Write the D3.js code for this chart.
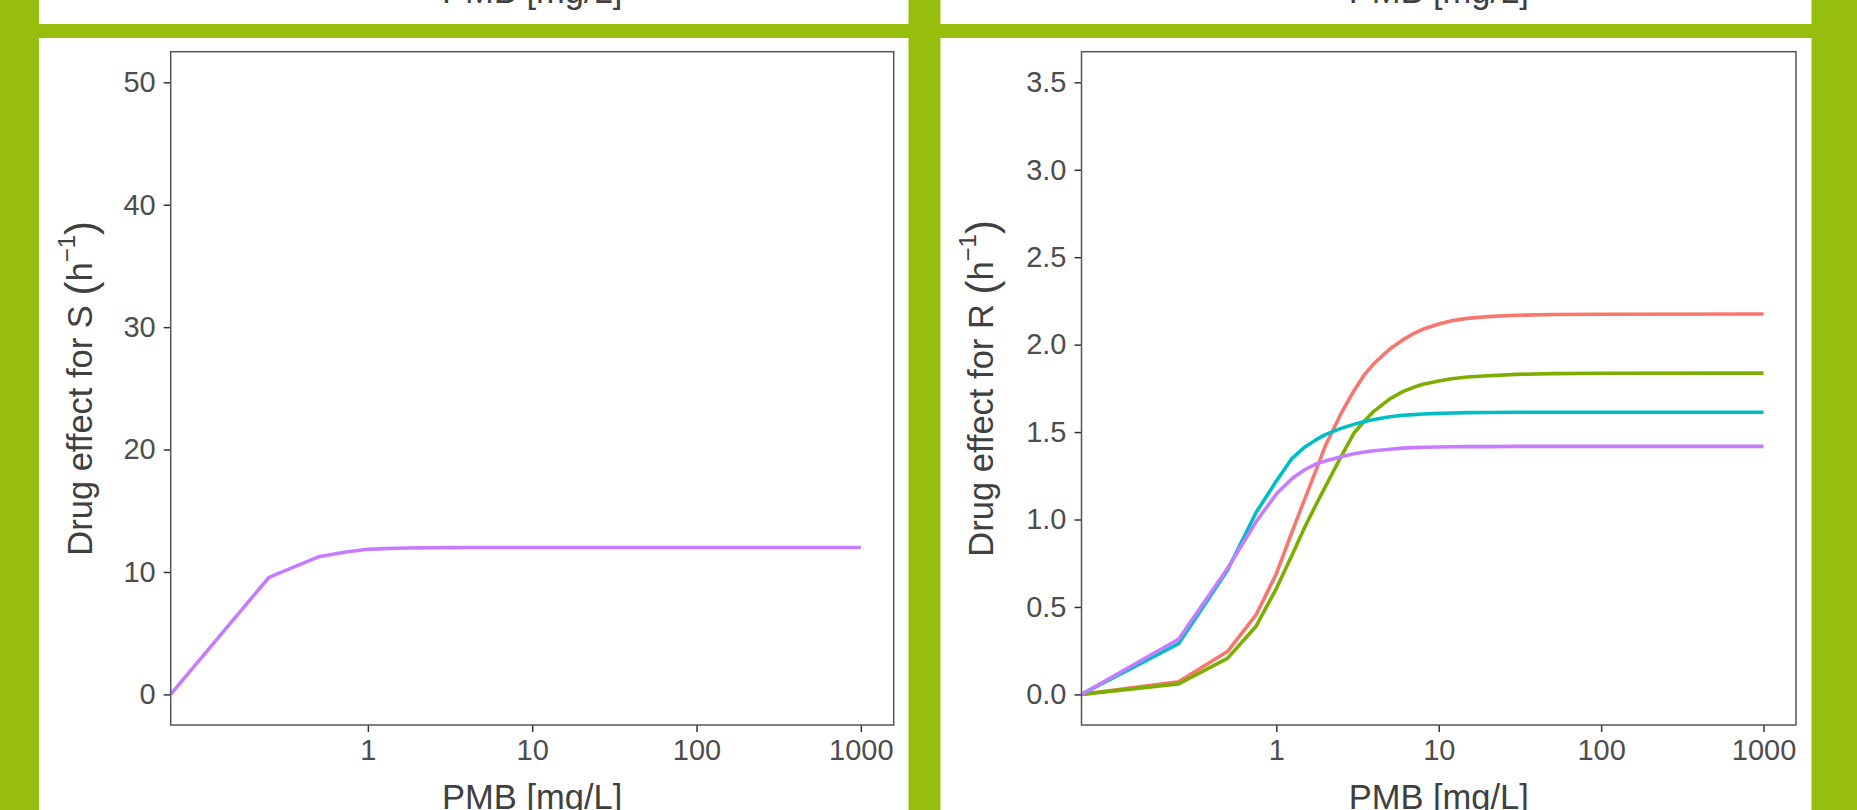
<!DOCTYPE html>
<html>
<head>
<meta charset="utf-8">
<script src="https://cdn.jsdelivr.net/npm/d3@7"></script>
<style>
  html, body { margin: 0; padding: 0; background: #96bf0d; }
  svg { display: block; }
  text { font-family: "Liberation Sans", Arial, sans-serif; }
</style>
</head>
<body>
<svg id="chart" width="1857" height="810"></svg>
<script>
// ---------------- data ----------------
const xTicks = [1, 10, 100, 1000];
const xLimits = [0.1, 1000];
const yTicksS = [0, 10, 20, 30, 40, 50];
const yLimitsS = [0, 50];
const yTicksR = [0, 0.5, 1, 1.5, 2, 2.5, 3, 3.5];
const yLimitsR = [0, 3.5];

const xTitle = "PMB [mg/L]";
const yTitleS = "Drug effect for S";
const yTitleR = "Drug effect for R";

const pmb = [0, 0.25, 0.5, 0.75, 1, 1.25, 1.5, 1.75, 2, 2.5, 3, 3.5, 4, 5, 6, 7, 8, 10, 12, 15, 20, 30, 50, 100, 1000];

// left panel: drug effect for S (single series)
const effectS = [0, 9.56, 11.24, 11.65, 11.85, 11.91, 11.94, 11.96, 11.97, 11.98, 11.99, 11.99, 12.0, 12.0, 12.0, 12.0, 12.0, 12.0, 12.0, 12.0, 12.0, 12.0, 12.0, 12.0, 12.0];

// right panel: drug effect for R (four series)
const effectR1 = [0, 0.072, 0.245, 0.455, 0.69, 0.93, 1.12, 1.28, 1.42, 1.605, 1.735, 1.83, 1.893, 1.975, 2.027, 2.063, 2.088, 2.118, 2.136, 2.15, 2.16, 2.168, 2.172, 2.174, 2.175];
const effectR2 = [0, 0.06, 0.206, 0.39, 0.605, 0.797, 0.959, 1.083, 1.187, 1.359, 1.493, 1.565, 1.62, 1.69, 1.731, 1.756, 1.773, 1.792, 1.805, 1.815, 1.822, 1.83, 1.834, 1.836, 1.837];
const effectR3 = [0, 0.29, 0.71, 1.04, 1.22, 1.35, 1.415, 1.455, 1.485, 1.521, 1.544, 1.56, 1.572, 1.588, 1.596, 1.6, 1.603, 1.607, 1.609, 1.611, 1.612, 1.613, 1.613, 1.613, 1.613];
const effectR4 = [0, 0.315, 0.72, 0.987, 1.146, 1.235, 1.286, 1.317, 1.334, 1.359, 1.376, 1.386, 1.393, 1.402, 1.408, 1.411, 1.413, 1.415, 1.416, 1.417, 1.417, 1.418, 1.418, 1.418, 1.418];

const colorsR = ["#F8766D", "#7CAE00", "#00BFC4", "#C77CFF"];
const colorS = "#C77CFF";

// ---------------- drawing ----------------
const svg = d3.select("#chart");
const GREEN = "#96bf0d";
svg.append("rect").attr("x", 0).attr("y", 0).attr("width", 1857).attr("height", 810).attr("fill", GREEN);

function logExpand(lim, m) {
  const a = Math.log10(lim[0]), b = Math.log10(lim[1]);
  const e = (b - a) * m;
  return [Math.pow(10, a - e), Math.pow(10, b + e)];
}
function linExpand(lim, m) {
  const e = (lim[1] - lim[0]) * m;
  return [lim[0] - e, lim[1] + e];
}

function drawPanel(cfg) {
  const g = svg.append("g");
  // white panel backgrounds (upper cut-off panel and this panel)
  g.append("rect").attr("x", cfg.px0).attr("y", -20).attr("width", cfg.px1 - cfg.px0).attr("height", 44).attr("fill", "#fff");
  g.append("rect").attr("x", cfg.px0).attr("y", 38).attr("width", cfg.px1 - cfg.px0).attr("height", 800).attr("fill", "#fff");

  const x = d3.scaleLog().domain(logExpand(xLimits, 0.05)).range([cfg.x0, cfg.x1]);
  const y = d3.scaleLinear().domain(linExpand(cfg.yLimits, 0.05)).range([cfg.y1, cfg.y0]);

  // axes
  const yAxis = d3.axisLeft(y).tickValues(cfg.yTicks).tickSize(7).tickPadding(8)
      .tickFormat(cfg.yFormat);
  const xAxis = d3.axisBottom(x).tickValues(xTicks).tickSize(7).tickPadding(7)
      .tickFormat(d3.format("d"));

  const ya = g.append("g").attr("transform", `translate(${cfg.x0},0)`).call(yAxis);
  const xa = g.append("g").attr("transform", `translate(0,${cfg.y1})`).call(xAxis);
  [ya, xa].forEach(a => {
    a.select(".domain").remove();
    a.selectAll(".tick line").attr("stroke", "#333").attr("stroke-width", 1.5);
    a.selectAll(".tick text").attr("fill", "#4d4d4d").style("font-size", "29px")
      .style("font-family", "'Liberation Sans', Arial, sans-serif");
  });

  // lines
  const line = d3.line()
    .x(d => d[0] <= 0 ? x.range()[0] : x(d[0]))
    .y(d => y(d[1]));
  cfg.series.forEach((s, i) => {
    g.append("path")
      .datum(pmb.map((p, k) => [p, s[k]]))
      .attr("fill", "none")
      .attr("stroke", cfg.colors[i])
      .attr("stroke-width", 3.6)
      .attr("stroke-linejoin", "round")
      .attr("d", line);
  });

  // panel border
  g.append("rect").attr("x", cfg.x0).attr("y", cfg.y0)
    .attr("width", cfg.x1 - cfg.x0).attr("height", cfg.y1 - cfg.y0)
    .attr("fill", "none").attr("stroke", "#555").attr("stroke-width", 1.5);

  const cx = (cfg.x0 + cfg.x1) / 2;
  // x titles (this panel and the cut-off one above)
  [809, 3].forEach(by => {
    g.append("text").attr("x", cx).attr("y", by).attr("text-anchor", "middle")
      .attr("fill", "#404040").style("font-size", "34.5px").text(xTitle);
  });

  // y title with superscript
  const cy = (cfg.y0 + cfg.y1) / 2;
  const t = g.append("text")
    .attr("transform", `translate(${cfg.yTitleX},${cy}) rotate(-90)`)
    .attr("text-anchor", "middle").attr("fill", "#404040").style("font-size", "34.5px");
  t.append("tspan").text(cfg.yTitle + " ");
  t.append("tspan").style("font-size", "42px").attr("dy", 3).text("(");
  t.append("tspan").style("font-size", "34.5px").attr("dy", -3).text("h");
  t.append("tspan").style("font-size", "24px").attr("dy", -17).text("\u22121");
  t.append("tspan").style("font-size", "42px").attr("dy", 20).text(")");
}

drawPanel({
  px0: 39, px1: 908.5,
  x0: 170.7, x1: 893.7, y0: 51.7, y1: 725,
  yLimits: yLimitsS, yTicks: yTicksS, yFormat: d3.format("d"),
  series: [effectS], colors: [colorS],
  yTitle: yTitleS, yTitleX: 91.5
});

drawPanel({
  px0: 940.5, px1: 1811.5,
  x0: 1081.5, x1: 1796, y0: 51.7, y1: 725,
  yLimits: yLimitsR, yTicks: yTicksR, yFormat: d3.format(".1f"),
  series: [effectR1, effectR2, effectR3, effectR4], colors: colorsR,
  yTitle: yTitleR, yTitleX: 993
});
</script>
</body>
</html>
